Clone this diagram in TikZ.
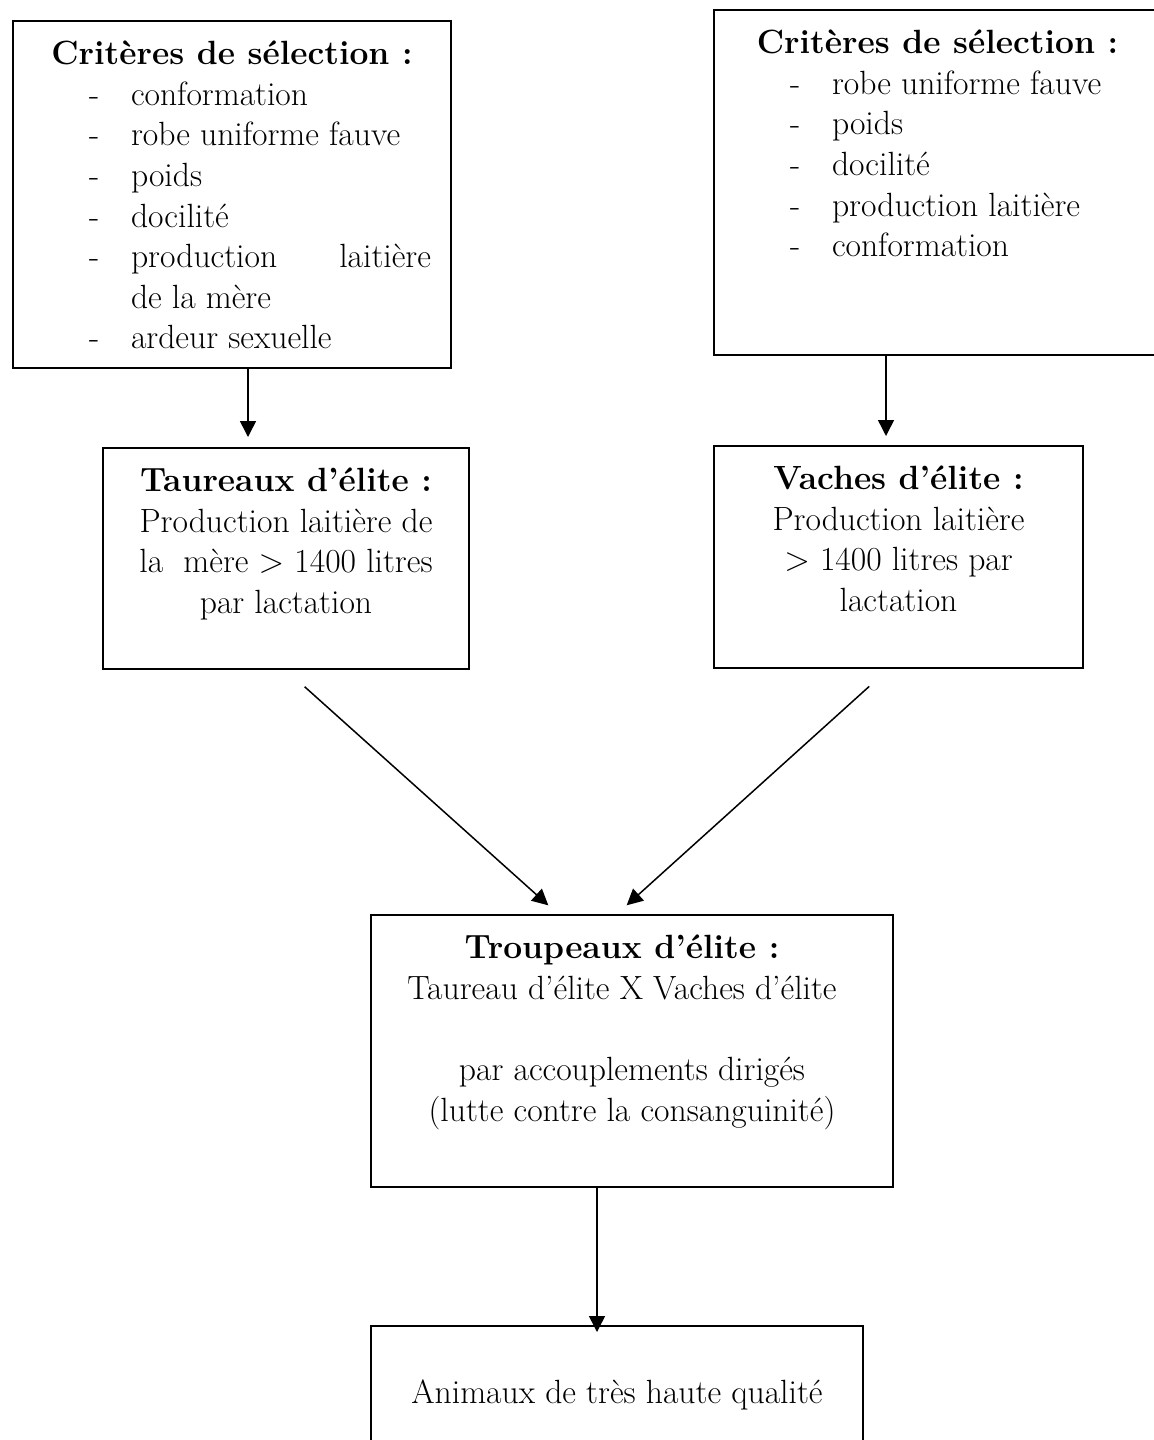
\documentclass[tikz,border=0pt]{standalone}
\usepackage{tikz}
\usetikzlibrary{arrows.meta}

\newcommand{\critline}[1]{\par\noindent\hspace*{38pt}\makebox[21pt][l]{-}#1}

\begin{document}
\begin{tikzpicture}[x=0.5pt, y=-0.5pt, every node/.style={font=\fontsize{16.8}{20.3}\selectfont}, box/.style={draw, line width=1pt, inner sep=0pt, anchor=north west}, arr/.style={line width=0.75pt, -{Triangle[width=8pt,length=8pt]}}]

\useasboundingbox (0,0) rectangle (1153,1440);

\node (criteres taureaux) [box] at (12,20) {\parbox[t][173.5pt][t]{219pt}{\vspace*{10pt}\centering
      \textbf{Critères de sélection :}\par\raggedright
      \critline{conformation}
      \critline{robe uniforme fauve}
      \critline{poids}
      \critline{docilité}
      \critline{\makebox[150pt][l]{production\hfill laitière}}
      \par\noindent\hspace*{59pt}de la mère
      \critline{ardeur sexuelle}
}};
\node (criteres vaches) [box] at (713,9) {\parbox[t][172.5pt][t]{223.5pt}{\vspace*{10pt}\centering
      \textbf{Critères de sélection :}\par\raggedright
      \critline{robe uniforme fauve}
      \critline{poids}
      \critline{docilité}
      \critline{production laitière}
      \critline{conformation}
}};
\node (taureaux elite) [box] at (102,447) {\parbox[t][110.5pt][t]{183pt}{\vspace*{10pt}\centering
      \textbf{Taureaux d'élite :}\\
      Production laitière de\\
      la~ mère > 1400 litres\\
      par lactation
}};
\node (vaches elite) [box] at (713,445) {\parbox[t][111pt][t]{184.5pt}{\vspace*{10pt}\centering
      \textbf{Vaches d'élite :}\\
      Production laitière\\
      > 1400 litres par\\
      lactation
}};
\node (troupeaux elite) [box] at (370,914) {\parbox[t][136pt][t]{261pt}{\vspace*{10pt}\centering
      \hspace*{-10pt}\textbf{Troupeaux d'élite :}\\
      \hspace*{-10pt}Taureau d'élite X Vaches d'élite\\[20.3pt]
      par accouplements dirigés\\
      (lutte contre la consanguinité)
}};
\node (animaux) [box] at (370,1325) {\parbox[t][67.5pt][t]{246pt}{\vspace*{27pt}\centering
      Animaux de très haute qualité
}};

\draw [arr, shorten >=5pt] ([xshift=118pt]criteres taureaux.south west) -- ([xshift=73pt]taureaux elite.north west);
\draw [arr, shorten >=4.5pt] ([xshift=86.5pt]criteres vaches.south west) -- ([xshift=86.5pt]vaches elite.north west);

\draw [arr, shorten <=12.5pt, shorten >=6.5pt] (taureaux elite.south) -- ([xshift=94pt]troupeaux elite.north west);
\draw [arr, shorten <=13pt, shorten >=6.5pt] ([xshift=-5pt]vaches elite.south) -- ([xshift=123.5pt]troupeaux elite.north west);

\draw [arr, shorten >=-3.5pt] ([xshift=113.5pt]troupeaux elite.south west) -- ([xshift=113.5pt]animaux.north west);

\end{tikzpicture}
\end{document}
